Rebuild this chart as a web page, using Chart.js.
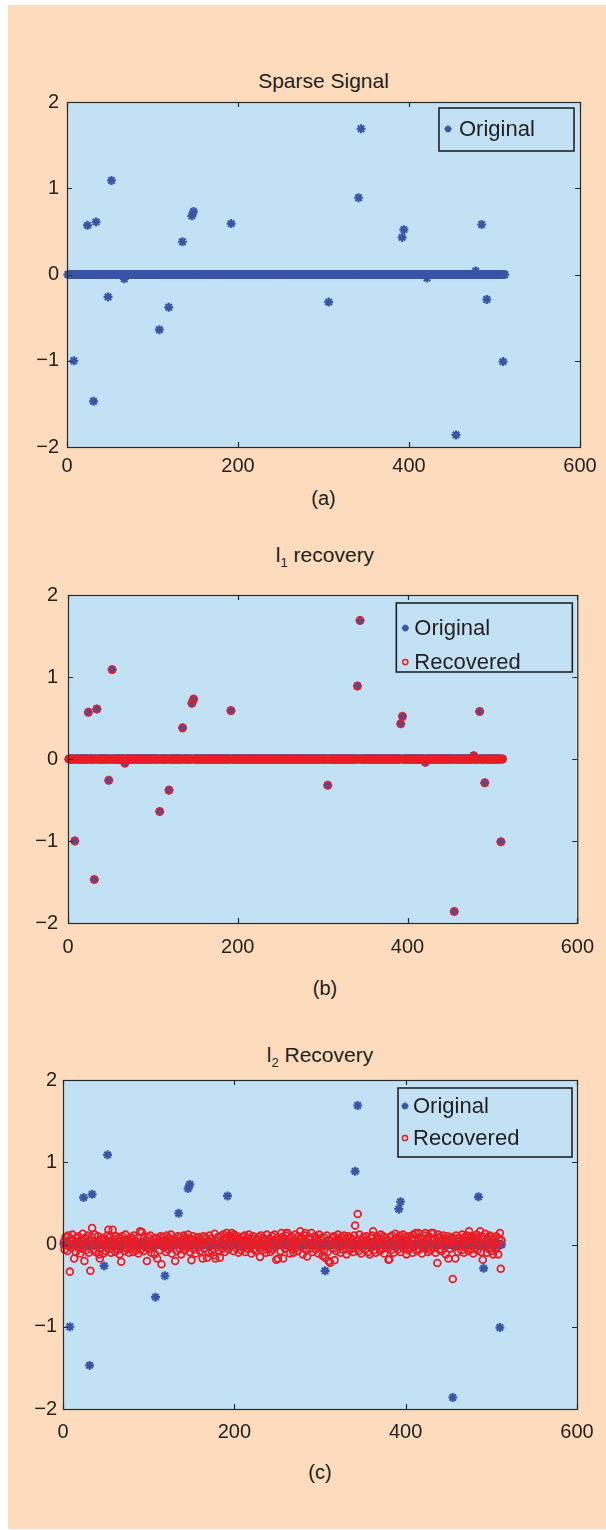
<!DOCTYPE html>
<html>
<head>
<meta charset="utf-8">
<script src="https://cdn.jsdelivr.net/npm/chart.js@4.4.1/dist/chart.umd.min.js"></script>
<style>
    body { margin: 0; background: #fff; width: 606px; height: 1530px; position: relative; overflow: hidden;
           font-family: "Liberation Sans", Arial, sans-serif; color: #231f20; }
    #bg { position: absolute; left: 8px; top: 5px; width: 598px; height: 1524px; background: #fcdcbd; }
    canvas { position: absolute; left: 0; }
    .title, .cap { position: absolute; text-align: center; white-space: nowrap; line-height: 24px; }
    .title { font-size: 21px; }
    .cap { font-size: 20px; }
    sub { font-size: 13px; vertical-align: -5px; line-height: 0; }
</style>
</head>
<body>
<div id="bg"></div>

<script>
// Sparse signal: 512 samples, zero except at these indices
const N = 512;
const spikeIdx = [8, 24, 31, 34, 48, 52, 67, 108, 119, 135, 146, 148, 192, 306, 341, 344, 392, 394, 421, 455, 478, 485, 491, 510];
const spikeVal = [-1.00, 0.57, -1.47, 0.61, -0.26, 1.09, -0.05, -0.64, -0.38, 0.38, 0.68, 0.73, 0.59, -0.32, 0.89, 1.69, 0.43, 0.52, -0.04, -1.86, 0.04, 0.58, -0.29, -1.01];

// l1 recovery (panel b) sits right on top of the original spikes
const l1Val = [-1.00, 0.57, -1.47, 0.61, -0.26, 1.09, -0.05, -0.64, -0.38, 0.38, 0.68, 0.73, 0.59, -0.32, 0.89, 1.69, 0.43, 0.52, -0.04, -1.86, 0.04, 0.58, -0.29, -1.01];

// l2 recovery (panel c), one value per sample 1..512
const l2Recovered = [
    0.03, -0.06, 0.09, 0.01, -0.08, 0.11, -0.02, -0.33, 0.07, -0.04, 0.12, 0.05, -0.17, 0.02, -0.09, 0.08,
    -0.03, 0.10, 0.04, -0.11, 0.06, -0.05, 0.13, 0.00, -0.20, 0.08, -0.07, 0.03, 0.11, -0.10, 0.05, -0.32,
    0.09, 0.20, -0.06, 0.02, 0.12, -0.09, 0.04, -0.02, 0.10, -0.12, -0.17, 0.06, -0.04, 0.08, -0.11, 0.01,
    0.07, -0.08, 0.03, 0.11, 0.18, -0.05, 0.09, -0.10, 0.02, 0.18, -0.03, 0.06, -0.09, 0.10, 0.00, -0.06,
    0.08, -0.12, 0.04, -0.21, 0.10, -0.02, 0.05, -0.08, 0.12, 0.01, -0.05, 0.07, -0.10, 0.03, 0.09, -0.04,
    0.06, -0.09, 0.11, -0.01, 0.04, -0.07, 0.08, -0.11, 0.02, 0.16, -0.06, 0.15, 0.03, -0.08, 0.10, -0.03,
    0.05, -0.20, 0.09, -0.05, 0.01, 0.11, -0.10, 0.04, -0.02, 0.07, -0.12, 0.03, 0.08, -0.17, 0.00, 0.06,
    -0.07, 0.10, -0.24, 0.02, 0.09, -0.04, 0.05, -0.09, 0.11, 0.01, -0.06, 0.08, -0.03, 0.12, -0.11, 0.04,
    0.00, 0.07, -0.20, 0.05, -0.08, 0.10, 0.02, -0.05, 0.09, -0.12, 0.06, -0.02, 0.11, -0.07, 0.03, 0.08,
    -0.04, 0.12, 0.01, -0.09, 0.07, -0.19, 0.05, 0.10, -0.06, 0.02, -0.11, 0.08, 0.04, -0.03, 0.09, -0.08,
    0.06, 0.01, -0.17, 0.10, -0.05, 0.03, 0.08, -0.16, 0.04, -0.10, 0.11, -0.02, 0.07, -0.08, 0.02, -0.13,
    0.13, -0.17, 0.05, -0.03, 0.09, -0.07, -0.16, 0.10, 0.03, -0.05, 0.12, 0.06, -0.09, 0.08, 0.14, 0.02,
    -0.06, 0.11, 0.05, -0.02, 0.14, 0.09, -0.08, 0.12, 0.03, -0.04, 0.10, 0.07, -0.10, 0.06, 0.01, -0.07,
    0.09, -0.03, 0.05, 0.11, -0.09, 0.02, 0.08, -0.05, 0.12, -0.01, 0.04, -0.11, 0.07, 0.10, -0.06, 0.03,
    -0.08, 0.06, 0.01, 0.09, -0.04, -0.15, 0.11, 0.04, -0.07, 0.08, -0.02, 0.05, -0.10, 0.12, 0.00, -0.05,
    0.07, -0.09, 0.03, 0.10, -0.06, 0.05, 0.12, -0.03, -0.185, 0.08, -0.17, 0.02, 0.06, -0.08, 0.14, 0.09,
    -0.17, 0.04, -0.05, 0.11, 0.14, 0.14, -0.02, 0.07, -0.11, 0.03, 0.09, -0.06, -0.10, 0.05, 0.12, -0.04,
    0.01, -0.08, 0.10, 0.06, 0.16, -0.03, 0.08, -0.12, 0.04, 0.11, 0.14, -0.07, -0.145, 0.02, 0.09, -0.05,
    0.06, 0.14, -0.09, 0.03, -0.01, 0.10, -0.06, 0.08, 0.05, -0.11, 0.12, -0.04, 0.07, -0.02, -0.135, 0.09,
    -0.07, -0.16, 0.04, 0.11, -0.09, -0.20, 0.06, -0.22, 0.01, 0.08, -0.05, 0.10, -0.19, 0.03, -0.08, 0.07,
    0.12, -0.03, 0.05, -0.10, 0.09, 0.02, -0.06, 0.11, -0.01, 0.07, -0.12, 0.04, 0.10, -0.07, 0.03, 0.08,
    -0.05, 0.06, -0.09, 0.11, 0.23, -0.02, 0.04, 0.37, -0.08, 0.12, 0.01, -0.11, 0.07, -0.04, 0.09, 0.03,
    -0.06, 0.10, 0.05, -0.09, 0.02, -0.12, 0.08, -0.03, 0.11, 0.16, -0.07, 0.04, -0.10, 0.06, 0.09, -0.02,
    0.03, -0.08, 0.12, 0.07, -0.05, 0.10, -0.11, 0.01, 0.08, -0.04, 0.05, -0.185, -0.18, 0.09, -0.07, 0.11,
    0.02, -0.10, 0.06, 0.13, -0.03, 0.08, -0.06, 0.04, 0.11, -0.09, 0.07, -0.01, 0.12, -0.05, 0.03, 0.09,
    -0.12, 0.05, -0.07, 0.10, 0.01, -0.04, 0.08, -0.10, 0.12, 0.06, -0.02, 0.14, -0.08, 0.04, 0.14, -0.06,
    0.09, 0.02, -0.11, 0.07, -0.03, 0.11, 0.14, -0.05, 0.06, -0.09, 0.10, 0.00, -0.07, 0.14, 0.05, 0.14,
    -0.04, 0.08, -0.10, 0.03, -0.225, 0.12, -0.06, 0.09, 0.01, -0.08, 0.05, 0.11, -0.02, 0.07, -0.12, 0.04,
    0.10, -0.17, 0.06, -0.05, 0.02, 0.09, -0.42, 0.07, -0.03, -0.17, 0.11, 0.04, -0.09, 0.08, -0.01, 0.06,
    -0.07, 0.12, 0.03, -0.10, 0.09, 0.05, -0.04, 0.11, -0.08, 0.16, 0.02, -0.06, 0.10, 0.07, -0.11, 0.04,
    0.08, -0.03, 0.12, -0.07, 0.05, 0.01, 0.16, -0.09, 0.10, -0.185, 0.06, -0.02, 0.13, 0.04, -0.10, 0.08,
    -0.05, 0.11, 0.03, -0.08, 0.09, -0.12, 0.06, 0.02, -0.06, 0.10, -0.03, -0.12, 0.07, 0.14, -0.295, 0.05
];

const xTicks = [0, 200, 400, 600];
const yTicks = [-2, -1, 0, 1, 2];

const BLUE = '#3a55a6';
const RED = '#ec1c24';
const PLOT_BG = '#c3e1f5';
const INK = '#231f20';

function sparseSeries(idx, val) {
    const pts = [];
    for (let i = 1; i <= N; i++) {
        const k = idx.indexOf(i);
        pts.push({ x: i, y: k < 0 ? 0 : val[k] });
    }
    return pts;
}

const original = sparseSeries(spikeIdx, spikeVal);
const l1Series = sparseSeries(spikeIdx, l1Val);
const l2Series = l2Recovered.map((v, i) => ({ x: i + 1, y: v }));

const origSet = (data) => ({
    label: 'Original', data: data, order: 1, clip: false,
    pointStyle: 'star', pointRadius: 4.5, borderWidth: 2.2,
    borderColor: BLUE, backgroundColor: BLUE
});
const recSet = (data) => ({
    label: 'Recovered', data: data, order: 0, clip: false,
    pointStyle: 'circle', pointRadius: 3.4, borderWidth: 1.8,
    borderColor: RED, backgroundColor: 'rgba(0,0,0,0)'
});

// background, box, inward ticks and the boxed legend
const framePlugin = {
    id: 'frame',
    beforeDatasetsDraw(chart) {
        const { ctx, chartArea: a } = chart;
        ctx.save();
        ctx.fillStyle = PLOT_BG;
        ctx.fillRect(a.left, a.top, a.right - a.left, a.bottom - a.top);
        ctx.restore();
    },
    afterDraw(chart, args, opts) {
        const { ctx, chartArea: a, scales } = chart;
        ctx.save();
        ctx.strokeStyle = '#2b2b2b';
        ctx.lineWidth = 1.2;
        ctx.strokeRect(a.left + 0.5, a.top + 0.5, a.right - a.left, a.bottom - a.top);
        ctx.beginPath();
        xTicks.forEach(v => {
            const px = Math.round(scales.x.getPixelForValue(v)) + 0.5;
            ctx.moveTo(px, a.top); ctx.lineTo(px, a.top + 5);
            ctx.moveTo(px, a.bottom); ctx.lineTo(px, a.bottom - 5);
        });
        yTicks.forEach(v => {
            const py = Math.round(scales.y.getPixelForValue(v)) + 0.5;
            ctx.moveTo(a.left, py); ctx.lineTo(a.left + 5, py);
            ctx.moveTo(a.right, py); ctx.lineTo(a.right - 5, py);
        });
        ctx.stroke();

        // legend box
        const lg = opts.legend;
        const bx = a.right - lg.right - lg.w, by = a.top + lg.top;
        ctx.fillStyle = PLOT_BG;
        ctx.fillRect(bx, by, lg.w, lg.h);
        ctx.lineWidth = 1.6;
        ctx.strokeStyle = '#222';
        ctx.strokeRect(bx, by, lg.w, lg.h);
        ctx.font = '22px "Liberation Sans", Arial, sans-serif';
        ctx.textBaseline = 'middle';
        chart.data.datasets.forEach((ds, i) => {
            const y = by + lg.rows[i];
            ctx.strokeStyle = ds.borderColor;
            ctx.fillStyle = 'rgba(0,0,0,0)';
            ctx.lineWidth = ds.pointStyle === 'star' ? 1.8 : 1.5;
            Chart.helpers.drawPoint(ctx, {
                pointStyle: ds.pointStyle, radius: ds.pointStyle === 'star' ? 3.5 : 2.6,
                borderWidth: ctx.lineWidth, rotation: 0
            }, bx + lg.mx, y);
            ctx.fillStyle = INK;
            ctx.fillText(ds.label, bx + lg.tx, y + 1);
        });
        ctx.restore();
    }
};

// panel layout: plot box in page pixels, text positions, legend placement
const panels = [
    {
        area: { l: 67, r: 580, t: 102, b: 447 }, titleY: 81, capY: 498,
        title: 'Sparse Signal', cap: '(a)', xPad: 7, yPad: 8,
        legend: { right: 6, top: 6, w: 135, h: 43, rows: [21], mx: 9, tx: 20 },
        datasets: [origSet(original)]
    },
    {
        area: { l: 68, r: 582, t: 593, b: 923 }, titleY: 555, capY: 988,
        title: 'l<sub>1</sub> recovery', cap: '(b)', xPad: 12, yPad: 10,
        legend: { right: 5, top: 8, w: 176, h: 69, rows: [25, 59], mx: 9, tx: 18 },
        datasets: [origSet(original), recSet(l1Series)]
    },
    {
        area: { l: 63, r: 577, t: 1080, b: 1409 }, titleY: 1055, capY: 1472,
        title: 'l<sub>2</sub> Recovery', cap: '(c)', xPad: 11, yPad: 6,
        legend: { right: 5, top: 8, w: 174, h: 69, rows: [18, 50], mx: 7, tx: 15 },
        datasets: [origSet(original), recSet(l2Series)]
    }
];

panels.forEach(p => {
    const a = p.area;
    const top = a.t - 20;
    const height = a.b - a.t + 70;

    const t = document.createElement('div');
    t.className = 'title';
    t.style.left = a.l + 'px';
    t.style.width = (a.r - a.l) + 'px';
    t.style.top = (p.titleY - 12) + 'px';
    t.innerHTML = p.title;
    document.body.appendChild(t);

    const c = document.createElement('div');
    c.className = 'cap';
    c.style.left = a.l + 'px';
    c.style.width = (a.r - a.l) + 'px';
    c.style.top = (p.capY - 12) + 'px';
    c.textContent = p.cap;
    document.body.appendChild(c);

    const canvas = document.createElement('canvas');
    canvas.width = 606;
    canvas.height = height;
    canvas.style.top = top + 'px';
    document.body.appendChild(canvas);

    const tickFont = { family: '"Liberation Sans", Arial, sans-serif', size: 20 };

    new Chart(canvas, {
        type: 'scatter',
        data: { datasets: p.datasets },
        options: {
            responsive: false,
            animation: false,
            events: [],
            layout: { padding: { left: 0, right: 606 - a.r, top: a.t - top, bottom: 0 } },
            plugins: {
                legend: { display: false },
                tooltip: { enabled: false },
                frame: { legend: p.legend }
            },
            scales: {
                x: {
                    type: 'linear', min: 0, max: 600,
                    grid: { display: false, drawTicks: false },
                    border: { display: false },
                    afterBuildTicks: s => { s.ticks = xTicks.map(v => ({ value: v })); },
                    afterFit: s => { s.height = height - (a.b - top); },
                    ticks: { font: tickFont, color: INK, padding: p.xPad, maxRotation: 0, autoSkip: false }
                },
                y: {
                    type: 'linear', min: -2, max: 2,
                    grid: { display: false, drawTicks: false },
                    border: { display: false },
                    afterBuildTicks: s => { s.ticks = yTicks.map(v => ({ value: v })); },
                    afterFit: s => { s.width = a.l; },
                    ticks: {
                        font: tickFont, color: INK, padding: p.yPad, autoSkip: false,
                        callback: v => v < 0 ? '\u2212' + Math.abs(v) : String(v)
                    }
                }
            }
        },
        plugins: [framePlugin]
    });
});
</script>
</body>
</html>
